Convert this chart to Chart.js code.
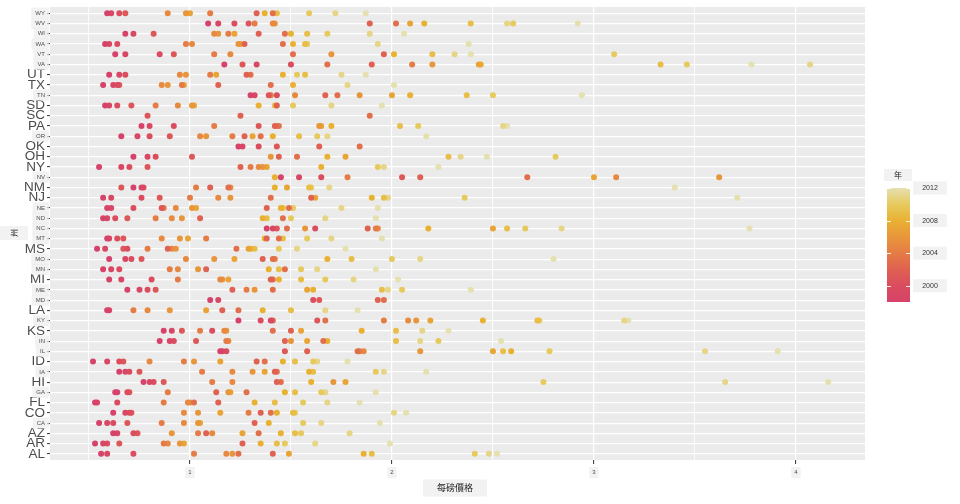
<!DOCTYPE html>
<html lang="zh-Hant">
<head>
<meta charset="UTF-8">
<title>每磅價格</title>
<script src="https://cdn.jsdelivr.net/npm/chart.js"></script>
<style>
  html, body { margin: 0; padding: 0; background: #fff; }
  #wrap { width: 960px; height: 504px; }
</style>
</head>
<body>
<div id="wrap"><canvas id="chart" width="960" height="504"></canvas></div>
<script>
// states from bottom (AL) to top (WY)
const states = ['AL','AR','AZ','CA','CO','FL','GA','HI','IA','ID','IL','IN','KS','KY','LA',
                'MD','ME','MI','MN','MO','MS','MT','NC','ND','NE','NJ','NM','NV','NY','OH',
                'OK','OR','PA','SC','SD','TN','TX','UT','VA','VT','WA','WI','WV','WY'];
const years = [1998,1999,2000,2001,2002,2003,2004,2005,2006,2007,2008,2009,2010,2011,2012];

// price per lb, one value per year (1998 .. 2012), null = no record
const priceAL = [0.56,0.59,0.72,null,1.41,1.24,1.02,1.18,1.21,1.49,1.86,1.90,2.41,2.48,2.52];
const priceAR = [0.53,0.57,0.59,0.65,1.26,null,0.87,0.89,0.95,0.97,1.35,1.43,1.47,1.62,1.99];
const priceAZ = [0.62,0.64,0.72,0.74,1.08,1.34,1.04,1.11,0.91,1.26,1.45,1.52,1.55,1.79,null];
const priceCA = [0.55,0.59,0.62,0.69,1.32,null,0.86,0.97,1.04,1.05,1.39,null,1.56,1.65,1.94];
const priceCO = [0.62,0.68,0.70,0.71,1.35,1.40,1.29,0.97,1.04,1.15,1.43,1.51,1.52,2.01,2.07];
const priceFL = [0.53,0.54,0.64,null,1.14,1.02,0.87,0.99,1.00,null,1.32,1.42,1.56,1.68,1.84];
const priceGA = [0.63,0.64,0.69,0.70,1.13,1.28,0.89,null,1.19,1.20,1.47,1.52,1.65,1.67,1.92];
const priceHI = [0.77,0.80,0.82,0.87,1.43,1.45,1.11,1.21,1.71,1.77,1.60,null,2.75,3.65,4.16];
const priceIA = [0.65,0.68,0.70,0.75,1.42,1.43,1.06,1.21,1.31,1.37,1.59,1.61,1.92,1.96,2.17];
const priceID = [0.52,0.59,0.65,0.67,1.33,1.37,0.97,0.80,1.02,1.15,1.46,1.52,1.61,1.63,1.78];
const priceIL = [1.15,1.16,1.18,1.47,1.58,1.83,1.84,1.86,2.14,2.50,2.59,2.55,2.78,3.55,3.91];
const priceIN = [0.85,0.90,0.92,1.03,1.47,1.66,1.18,1.19,1.50,1.58,1.68,2.02,2.23,2.14,2.54];
const priceKS = [0.87,0.91,1.11,0.96,1.50,1.41,1.05,1.17,1.18,1.55,1.85,2.02,null,2.15,2.28];
const priceKY = [1.24,1.40,1.35,1.63,1.41,1.67,1.96,2.08,2.12,2.19,2.45,2.72,2.73,3.15,3.17];
const priceLA = [0.59,0.60,null,null,1.16,1.24,0.72,0.79,0.90,1.08,1.36,1.50,null,1.67,1.83];
const priceMD = [1.10,1.14,1.61,1.64,1.93,1.96,null,null,null,null,null,null,null,null,null];
const priceME = [0.69,0.75,0.79,0.83,1.21,1.41,1.28,null,1.32,1.58,1.61,1.95,2.05,1.98,2.39];
const priceMI = [0.60,0.66,0.81,null,1.40,1.41,0.94,1.15,1.16,1.19,1.44,1.55,1.67,1.81,2.03];
const priceMN = [0.57,0.61,0.65,null,1.08,1.47,0.90,0.94,1.04,null,1.39,1.44,1.55,1.63,1.92];
const priceMO = [0.60,0.68,0.71,0.76,1.36,1.41,1.42,0.98,1.12,1.22,1.68,1.80,2.00,2.14,2.80];
const priceMS = [0.54,0.58,0.69,0.67,0.89,1.23,0.79,0.91,0.93,1.29,1.30,1.32,1.44,1.53,1.77];
const priceMT = [0.59,0.60,0.64,0.67,1.38,1.44,1.08,0.86,0.95,0.99,1.37,1.46,1.58,1.70,1.95];
const priceNC = [1.38,1.41,1.62,1.43,1.88,1.48,1.92,1.93,1.57,2.50,2.18,2.57,2.66,2.84,3.77];
const priceND = [0.57,0.59,0.63,0.69,1.05,1.46,0.83,0.91,0.96,null,1.36,1.38,1.50,1.67,1.92];
const priceNE = [0.59,0.61,0.72,0.86,1.38,1.49,0.87,0.93,1.01,1.03,1.45,1.46,1.51,1.75,1.93];
const priceNJ = [0.57,0.61,0.76,0.85,1.60,1.40,1.00,1.14,1.20,1.62,1.90,1.96,2.36,1.98,3.71];
const priceNM = [0.72,0.76,0.77,0.66,1.10,1.19,1.03,1.20,null,1.48,1.42,1.59,1.60,1.69,3.40];
const priceNV = [1.45,1.54,1.65,2.05,2.14,2.67,1.78,3.11,3.62,3.00,1.42,null,null,null,null];
const priceNY = [0.55,0.66,0.70,0.79,1.25,null,1.30,1.34,1.36,1.38,1.65,null,1.93,1.96,2.23];
const priceOH = [0.72,0.79,0.83,1.01,1.44,1.53,null,null,1.40,1.77,1.68,2.28,2.81,2.34,2.47];
const priceOK = [1.24,1.26,1.34,1.43,1.64,1.84,null,null,null,null,null,null,null,null,null];
const priceOR = [0.66,0.74,0.80,0.90,1.27,1.35,1.21,1.05,1.08,1.31,1.41,1.54,1.63,1.68,2.17];
const pricePA = [0.76,0.80,0.92,1.34,1.42,1.44,1.12,1.43,1.64,1.65,1.70,2.04,2.13,2.55,2.57];
const priceSC = [null,null,null,0.79,1.25,1.89,null,null,null,null,null,null,null,null,null];
const priceSD = [0.58,0.60,0.64,0.71,1.43,null,0.83,0.94,1.01,1.02,1.34,1.42,1.51,1.70,1.95];
const priceTN = [1.30,1.32,1.43,1.39,1.67,1.73,1.40,1.52,1.84,2.00,2.09,2.37,2.50,null,2.94];
const priceTX = [0.57,0.62,0.64,0.65,1.14,1.40,0.96,0.86,0.89,0.97,1.51,null,null,1.78,2.01];
const priceUT = [0.60,0.65,0.68,null,1.28,1.30,1.10,0.95,0.98,1.13,1.46,1.57,1.53,1.75,1.87];
const priceVA = [1.17,1.33,1.50,1.26,1.90,1.68,2.10,null,2.20,2.43,2.44,3.33,3.46,4.07,3.78];
const priceVT = [0.63,0.68,0.85,0.92,1.96,1.51,1.12,1.20,1.70,null,2.01,2.20,3.10,2.31,2.39];
const priceWA = [0.58,0.60,0.64,null,1.27,1.46,0.98,1.01,1.24,1.25,1.51,1.57,1.58,1.93,2.38];
const priceWI = [0.68,0.72,null,0.82,1.34,1.47,1.19,1.12,1.14,1.22,1.50,1.58,1.68,1.89,2.06];
const priceWV = [1.09,1.14,1.22,1.29,1.89,2.02,1.32,1.41,1.42,2.09,2.16,2.39,2.60,2.57,2.92];
const priceWY = [0.59,0.61,0.65,0.68,1.33,1.41,1.10,0.89,0.98,1.00,1.37,1.43,1.59,1.72,1.87];

const priceRows = [priceAL,priceAR,priceAZ,priceCA,priceCO,priceFL,priceGA,priceHI,priceIA,priceID,
                   priceIL,priceIN,priceKS,priceKY,priceLA,priceMD,priceME,priceMI,priceMN,priceMO,
                   priceMS,priceMT,priceNC,priceND,priceNE,priceNJ,priceNM,priceNV,priceNY,priceOH,
                   priceOK,priceOR,pricePA,priceSC,priceSD,priceTN,priceTX,priceUT,priceVA,priceVT,
                   priceWA,priceWI,priceWV,priceWY];

const xTicks = [1, 2, 3, 4];
const xBreaks = [0.5, 1, 1.5, 2, 2.5, 3, 3.5, 4];
const legendTicks = [2000, 2004, 2008, 2012];

// colour ramp for the year scale
const colorYears = [1998, 2000, 2002, 2004, 2006, 2008, 2010, 2012];
const colorStops = ['#d6426a', '#da4c5e', '#df6152', '#e57c45', '#e8963b', '#e9b132', '#e6ca5e', '#e5e0b0'];

// labels drawn large on the y axis
const bigLabels = ['AL','AR','AZ','CO','FL','HI','ID','KS','LA','MI','MS','NJ','NM','NY','OH','OK','PA','SC','SD','TX','UT'];

const FONT = "'Liberation Sans', 'DejaVu Sans', sans-serif";
const CJK = "'Noto Sans CJK TC', 'Noto Sans CJK SC', sans-serif";
const BOX = 'rgba(236,236,236,0.7)';

function hexRgb(h) {
    return [parseInt(h.slice(1, 3), 16), parseInt(h.slice(3, 5), 16), parseInt(h.slice(5, 7), 16)];
}

function yearColor(yr) {
    for (let i = 0; i < colorYears.length - 1; i++) {
        if (yr <= colorYears[i + 1]) {
            const t = (yr - colorYears[i]) / (colorYears[i + 1] - colorYears[i]);
            const a = hexRgb(colorStops[i]), b = hexRgb(colorStops[i + 1]);
            const c = a.map((v, k) => Math.round(v + (b[k] - v) * t));
            return `rgb(${c[0]},${c[1]},${c[2]})`;
        }
    }
    return colorStops[colorStops.length - 1];
}

const datasets = years.map((yr, j) => ({
    label: String(yr),
    data: priceRows
        .map((row, i) => ({x: row[j], y: i}))
        .filter(p => p.x !== null),
    backgroundColor: yearColor(yr),
    pointRadius: 3,
    pointHoverRadius: 3,
    pointBorderWidth: 0
}));

function boxText(ctx, text, x, y, font, color, padX, padY, rot) {
    ctx.save();
    ctx.translate(x, y);
    if (rot) ctx.rotate(rot);
    ctx.font = font;
    const w = ctx.measureText(text).width;
    const fs = parseFloat(font.match(/(\d+(\.\d+)?)px/)[1]);
    ctx.fillStyle = BOX;
    ctx.fillRect(-w / 2 - padX, -fs / 2 - padY, w + padX * 2, fs + padY * 2);
    ctx.fillStyle = color;
    ctx.textAlign = 'center';
    ctx.textBaseline = 'middle';
    ctx.fillText(text, 0, 0);
    ctx.restore();
}

const panelBg = {
    id: 'panelBg',
    beforeDraw(chart) {
        const {ctx, chartArea: a} = chart;
        ctx.save();
        ctx.fillStyle = '#ebebeb';
        ctx.fillRect(a.left, a.top, a.right - a.left, a.bottom - a.top);
        ctx.restore();
    }
};

const extras = {
    id: 'extras',
    afterDraw(chart) {
        const {ctx} = chart;
        // axis titles
        boxText(ctx, '每磅價格', 455, 488, `9px ${CJK}`, '#222', 14, 4);
        boxText(ctx, '州', 14, 233, `8px ${CJK}`, '#222', 3, 10, -Math.PI / 2);

        // colour bar legend
        const x0 = 887, x1 = 910, yTop = 188, yBot = 302;
        const span = colorYears[colorYears.length - 1] - colorYears[0];
        const yOf = yr => yBot - (yr - colorYears[0]) / span * (yBot - yTop);
        boxText(ctx, '年', 898, 175, `8px ${CJK}`, '#222', 10, 2);
        const g = ctx.createLinearGradient(0, yBot, 0, yTop);
        colorYears.forEach((yr, i) => g.addColorStop((yr - colorYears[0]) / span, colorStops[i]));
        ctx.save();
        ctx.fillStyle = g;
        ctx.fillRect(x0, yTop, x1 - x0, yBot - yTop);
        ctx.strokeStyle = 'rgba(255,255,255,0.9)';
        ctx.lineWidth = 1;
        legendTicks.forEach(yr => {
            const y = Math.round(yOf(yr)) + 0.5;
            ctx.beginPath();
            ctx.moveTo(x0, y); ctx.lineTo(x0 + 4, y);
            ctx.moveTo(x1 - 4, y); ctx.lineTo(x1, y);
            ctx.stroke();
            boxText(ctx, String(yr), 930, yOf(yr), `7px ${FONT}`, '#333', 9, 3);
        });
        ctx.restore();
    }
};

new Chart(document.getElementById('chart'), {
    type: 'scatter',
    data: {datasets},
    options: {
        responsive: false,
        animation: false,
        devicePixelRatio: 1,
        layout: {padding: {left: 0, right: 95, top: 7, bottom: 0}},
        plugins: {legend: {display: false}, tooltip: {enabled: false}},
        scales: {
            x: {
                type: 'linear',
                min: 0.307,
                max: 4.342,
                afterBuildTicks: s => { s.ticks = xBreaks.map(v => ({value: v})); },
                afterFit: s => { s.height = 44; },
                border: {display: false},
                grid: {
                    color: '#ffffff',
                    lineWidth: c => xTicks.includes(c.tick && c.tick.value) ? 1.2 : 0.8,
                    tickLength: 4,
                    tickWidth: 1,
                    tickColor: c => xTicks.includes(c.tick && c.tick.value) ? '#333333' : 'rgba(0,0,0,0)'
                },
                ticks: {
                    autoSkip: false,
                    maxRotation: 0,
                    padding: 5,
                    color: '#4d4d4d',
                    font: {family: FONT, size: 6},
                    callback: v => xTicks.includes(v) ? String(v) : '',
                    showLabelBackdrop: true,
                    backdropPadding: {left: 3, right: 3, top: 2, bottom: 2},
                    backdropColor: c => xTicks.includes(c.tick && c.tick.value) ? BOX : 'rgba(0,0,0,0)'
                }
            },
            y: {
                type: 'linear',
                min: -0.6,
                max: 43.6,
                afterBuildTicks: s => { s.ticks = states.map((_, i) => ({value: i})); },
                afterFit: s => { s.width = 50; },
                border: {display: false},
                grid: {
                    color: '#ffffff',
                    lineWidth: 1.2,
                    tickLength: 3,
                    tickWidth: 1,
                    tickColor: '#333333'
                },
                ticks: {
                    autoSkip: false,
                    padding: 2,
                    color: '#4d4d4d',
                    callback: v => states[v],
                    font: c => ({
                        family: FONT,
                        size: bigLabels.includes(states[c.tick ? c.tick.value : 0]) ? 13.5 : 6
                    }),
                    showLabelBackdrop: true,
                    backdropPadding: {left: 4, right: 4, top: 2, bottom: 2},
                    backdropColor: c => bigLabels.includes(states[c.tick ? c.tick.value : 0]) ? 'rgba(0,0,0,0)' : BOX
                }
            }
        }
    },
    plugins: [panelBg, extras]
});
</script>
</body>
</html>
